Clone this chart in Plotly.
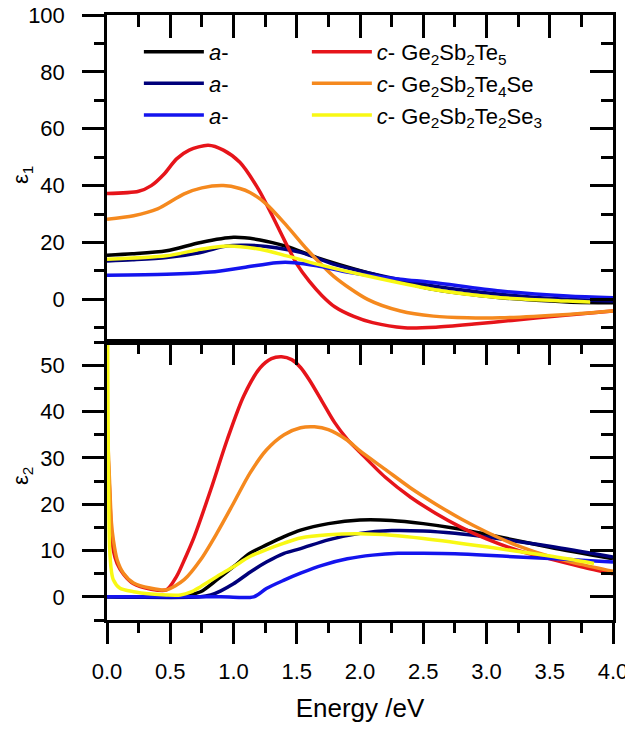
import plotly.graph_objects as go

FONT = "Arial, Liberation Sans, sans-serif"

# ---------------- data: epsilon_1 (top panel) ----------------
E1_black = [0, 0.2, 0.47, 0.74, 1.0, 1.21, 1.42, 1.66, 2.06, 2.58, 3.11, 3.64, 4.0]
e1_black = [15.5, 16.0, 17.1, 20.0, 21.8, 20.9, 18.6, 14.7, 9.4, 3.5, 0.6, -0.9, -1.2]

E1_navy = [0, 0.2, 0.47, 0.74, 0.95, 1.1, 1.26, 1.53, 1.79, 2.06, 2.58, 3.11, 3.64, 4.0]
e1_navy = [13.5, 13.9, 14.7, 16.5, 18.8, 19.0, 18.6, 16.5, 12.4, 9.4, 4.7, 1.8, 0.0, -0.6]

E1_blue = [0, 0.47, 0.82, 1.08, 1.34, 1.48, 1.66, 1.92, 2.32, 2.58, 3.11, 3.64, 4.0]
e1_blue = [8.5, 8.8, 9.6, 11.2, 12.9, 12.9, 11.8, 9.4, 7.1, 5.9, 2.9, 1.2, 0.6]

E1_red = [0, 0.25, 0.35, 0.45, 0.55, 0.65, 0.8, 0.92, 1.05, 1.2, 1.3, 1.4, 1.5, 1.6,
          1.7, 1.8, 1.95, 2.1, 2.35, 2.6, 2.9, 3.2, 3.6, 4.0]
e1_red = [37.2, 38.0, 40.0, 44.0, 49.4, 52.5, 54.2, 52.5, 48.2, 38.5, 30.0, 21.0, 12.5, 6.3,
          1.3, -2.6, -6.0, -8.2, -10.0, -9.8, -8.7, -7.4, -5.7, -4.1]

E1_orange = [0, 0.21, 0.4, 0.61, 0.75, 0.92, 1.05, 1.13, 1.26, 1.42, 1.58, 1.79, 2.06,
             2.32, 2.58, 2.85, 3.11, 3.64, 4.0]
e1_orange = [28.2, 29.4, 31.8, 37.1, 39.2, 40.0, 39.0, 37.6, 33.5, 25.9, 17.6, 8.2, 0.0,
             -4.1, -5.9, -6.5, -6.5, -5.3, -4.1]

E1_yellow = [0, 0.47, 0.74, 0.95, 1.21, 1.42, 1.66, 2.06, 2.58, 3.11, 3.64, 3.82]
e1_yellow = [14.1, 15.3, 17.6, 18.8, 17.6, 15.3, 12.4, 8.2, 3.5, 0.6, -0.6, -0.9]

# ---------------- data: epsilon_2 (bottom panel) ----------------
E2_black = [0, 0.55, 0.63, 0.74, 0.87, 1.0, 1.13, 1.26, 1.4, 1.53, 1.75, 2.0, 2.25, 2.5,
            2.75, 3.0, 3.5, 4.0]
e2_black = [0, 0, 0.3, 1.1, 3.7, 6.5, 9.4, 11.2, 13.0, 14.4, 15.8, 16.6, 16.5, 15.8,
            14.8, 13.5, 10.7, 8.2]

E2_navy = [0, 0.74, 0.82, 0.9, 1.0, 1.13, 1.26, 1.4, 1.53, 1.75, 2.0, 2.25, 2.5, 2.75,
           3.0, 3.5, 4.0]
e2_navy = [0, 0, 0.4, 1.3, 2.8, 5.3, 7.5, 9.4, 10.4, 12.3, 13.7, 14.3, 14.2, 13.7,
           12.9, 10.9, 8.6]

E2_blue = [0, 0.9, 1.16, 1.26, 1.4, 1.53, 1.7, 1.9, 2.1, 2.3, 2.5, 2.75, 3.0, 3.25, 3.5,
           3.75, 4.0]
e2_blue = [0, 0, 0, 1.8, 3.6, 5.1, 6.8, 8.2, 9.0, 9.4, 9.4, 9.3, 9.0, 8.6, 8.3, 7.9, 7.5]

E2_red = [0, 0.02, 0.035, 0.05, 0.08, 0.13, 0.21, 0.34, 0.47, 0.55, 0.62, 0.69, 0.82,
          0.95, 1.08, 1.21, 1.3, 1.38, 1.46, 1.53, 1.6, 1.7, 1.8, 1.9, 2.0, 2.2, 2.4,
          2.6, 2.8, 3.0, 3.25, 3.5, 3.75, 4.0]
e2_red = [36, 23, 14, 10, 7.2, 4.9, 2.8, 1.7, 1.5, 4.4, 8.5, 13.0, 23.1, 33.9, 43.3,
          49.4, 51.4, 51.8, 51.2, 49.5, 46.8, 42.2, 37.6, 34.0, 31.2, 25.8, 21.5, 18.0,
          15.0, 12.5, 10.0, 8.2, 6.5, 5.0]

E2_orange = [0, 0.02, 0.035, 0.05, 0.08, 0.13, 0.21, 0.34, 0.47, 0.61, 0.74, 0.87, 1.0,
             1.13, 1.26, 1.4, 1.53, 1.64, 1.75, 1.9, 2.0, 2.2, 2.4, 2.6, 2.8, 3.0, 3.25,
             3.5, 3.75, 4.0]
e2_orange = [38, 25, 16, 12.3, 8.0, 5.1, 3.0, 1.9, 1.5, 3.7, 8.0, 13.8, 20.2, 26.7, 31.7,
             35.0, 36.5, 36.7, 36.1, 33.8, 31.5, 27.5, 23.5, 20.0, 16.8, 14.0, 11.0, 8.7,
             7.0, 5.5]

E2_yellow = [0, 0.006, 0.012, 0.02, 0.035, 0.05, 0.1, 0.21, 0.35, 0.47, 0.58, 0.66, 0.74,
             0.87, 1.0, 1.13, 1.26, 1.4, 1.53, 1.75, 2.0, 2.25, 2.5, 3.0, 3.5, 3.85]
e2_yellow = [90, 50, 25, 11, 5.5, 3.7, 1.9, 1.1, 0.6, 0.4, 0.4, 1.0, 2.2, 4.4, 6.5, 8.7,
             10.2, 11.6, 12.7, 13.4, 13.6, 13.3, 12.6, 10.8, 8.8, 7.2]

names = {
    "black": "<i>a</i>-",
    "navy": "<i>a</i>-",
    "blue": "<i>a</i>-",
    "red": "<i>c</i>- Ge<sub>2</sub>Sb<sub>2</sub>Te<sub>5</sub>",
    "orange": "<i>c</i>- Ge<sub>2</sub>Sb<sub>2</sub>Te<sub>4</sub>Se",
    "yellow": "<i>c</i>- Ge<sub>2</sub>Sb<sub>2</sub>Te<sub>2</sub>Se<sub>3</sub>",
}
colors = {"black": "#000000", "navy": "#00007a", "blue": "#1414ee",
          "red": "#e6141a", "orange": "#f5891e", "yellow": "#f8f814"}
legend_of = {"black": "legend", "navy": "legend", "blue": "legend",
             "red": "legend2", "orange": "legend2", "yellow": "legend2"}
rank = {"black": 1, "navy": 2, "blue": 3, "red": 1, "orange": 2, "yellow": 3}

top = {"black": (E1_black, e1_black), "navy": (E1_navy, e1_navy), "red": (E1_red, e1_red),
       "orange": (E1_orange, e1_orange), "blue": (E1_blue, e1_blue),
       "yellow": (E1_yellow, e1_yellow)}
bottom = {"black": (E2_black, e2_black), "navy": (E2_navy, e2_navy), "red": (E2_red, e2_red),
          "orange": (E2_orange, e2_orange), "blue": (E2_blue, e2_blue),
          "yellow": (E2_yellow, e2_yellow)}

fig = go.Figure()
order = ["black", "navy", "red", "orange", "blue", "yellow"]
for k in order:
    xs, ys = top[k]
    fig.add_trace(go.Scatter(x=xs, y=ys, mode="lines", name=names[k],
                             line=dict(color=colors[k], width=3.5, shape="spline", smoothing=0.8),
                             xaxis="x2", yaxis="y2", legend=legend_of[k], legendrank=rank[k],
                             showlegend=True))
for k in order:
    xs, ys = bottom[k]
    fig.add_trace(go.Scatter(x=xs, y=ys, mode="lines", name=names[k],
                             line=dict(color=colors[k], width=3.5, shape="spline", smoothing=0.8),
                             xaxis="x", yaxis="y", showlegend=False))

# the page body has an 8 px margin, so the figure is 8 px smaller and shifted
W, H = 625, 719
ML, MR, MT = 99, 20, 7
PH = 605
MB = H - MT - PH
split = 278 / 605
LW = 2.5
XR = [0, 4]
Y1R = [-5, 55]
Y2R = [-15, 100]
CLEAR = "rgba(0,0,0,0)"


def base(**kw):
    d = dict(showgrid=False, zeroline=False, linecolor="black", linewidth=LW,
             tickcolor="black", tickwidth=LW, automargin=False, ticklabeloverflow="allow",
             tickfont=dict(family=FONT, size=22, color="black"), tick0=0)
    d.update(kw)
    return d


def tickaxis(over, anchor, side, rng, dtick, ticks, ln, line=False):
    return base(overlaying=over, anchor=anchor, side=side, range=rng, dtick=dtick,
                ticks=ticks, ticklen=ln, showticklabels=False, showline=line)


layout_axes = dict(
    # main axes carry the labels (transparent ticks set the label distance)
    xaxis=base(domain=[0, 1], anchor="y", range=XR, dtick=0.5, tickformat=".1f",
               ticks="outside", ticklen=30, tickcolor=CLEAR, showline=True,
               title=dict(text="Energy /eV", font=dict(family=FONT, size=26), standoff=16)),
    yaxis=base(domain=[0, split], anchor="x", range=Y1R, dtick=10, ticks="outside",
               ticklen=35, tickcolor=CLEAR, showline=True),
    xaxis2=base(domain=[0, 1], anchor="y2", range=XR, showticklabels=False, ticks="",
                showline=True),
    yaxis2=base(domain=[split, 1], anchor="x2", range=Y2R, dtick=20, ticks="outside",
                ticklen=35, tickcolor=CLEAR, showline=True),
    # bottom panel: visible major/minor ticks on all four sides
    xaxis3=tickaxis("x", "y", "bottom", XR, 0.25, "outside", 12),
    xaxis8=tickaxis("x", "y", "bottom", XR, 0.5, "outside", 23),
    xaxis4=tickaxis("x", "y", "top", XR, 0.5, "inside", 23, line=True),
    xaxis5=tickaxis("x", "y", "top", XR, 0.25, "inside", 12),
    yaxis3=tickaxis("y", "x", "left", Y1R, 5, "outside", 12),
    yaxis9=tickaxis("y", "x", "left", Y1R, 10, "outside", 24),
    yaxis4=tickaxis("y", "x", "right", Y1R, 10, "inside", 23, line=True),
    yaxis5=tickaxis("y", "x", "right", Y1R, 5, "inside", 12),
    # top panel
    xaxis6=tickaxis("x2", "y2", "top", XR, 0.5, "inside", 23, line=True),
    xaxis7=tickaxis("x2", "y2", "top", XR, 0.25, "inside", 12),
    yaxis6=tickaxis("y2", "x2", "left", Y2R, 10, "outside", 12),
    yaxis10=tickaxis("y2", "x2", "left", Y2R, 20, "outside", 24),
    yaxis7=tickaxis("y2", "x2", "right", Y2R, 20, "inside", 23, line=True),
    yaxis8=tickaxis("y2", "x2", "right", Y2R, 10, "inside", 12),
)

# empty helper traces so every tick axis gets its own subplot drawn
for xa, ya in [("x3", "y"), ("x8", "y"), ("x4", "y"), ("x5", "y"), ("x", "y3"), ("x", "y9"),
               ("x", "y4"), ("x", "y5"), ("x6", "y2"), ("x7", "y2"), ("x2", "y6"),
               ("x2", "y10"), ("x2", "y7"), ("x2", "y8")]:
    fig.add_trace(go.Scatter(x=[None], y=[None], mode="lines", xaxis=xa, yaxis=ya,
                             showlegend=False, hoverinfo="skip"))

fig.update_layout(
    width=W, height=H,
    margin=dict(l=ML, r=MR, t=MT, b=MB, autoexpand=False),
    paper_bgcolor="white", plot_bgcolor="white",
    font=dict(family=FONT, color="black"),
    legend=dict(x=0.063, y=0.9736, xanchor="left", yanchor="top", bgcolor=CLEAR,
                font=dict(family=FONT, size=22, color="black"), itemwidth=60),
    legend2=dict(x=0.395, y=0.9736, xanchor="left", yanchor="top", bgcolor=CLEAR,
                 font=dict(family=FONT, size=22, color="black"), itemwidth=60),
    annotations=[
        dict(text="ε<sub>1</sub>", xref="paper", yref="paper", x=-0.168, y=0.7355,
             xanchor="center", yanchor="middle",
             textangle=-90, showarrow=False, font=dict(family=FONT, size=22)),
        dict(text="ε<sub>2</sub>", xref="paper", yref="paper", x=-0.168, y=0.238,
             xanchor="center", yanchor="middle",
             textangle=-90, showarrow=False, font=dict(family=FONT, size=22)),
    ],
    **layout_axes,
)

fig.write_html("out.html")
